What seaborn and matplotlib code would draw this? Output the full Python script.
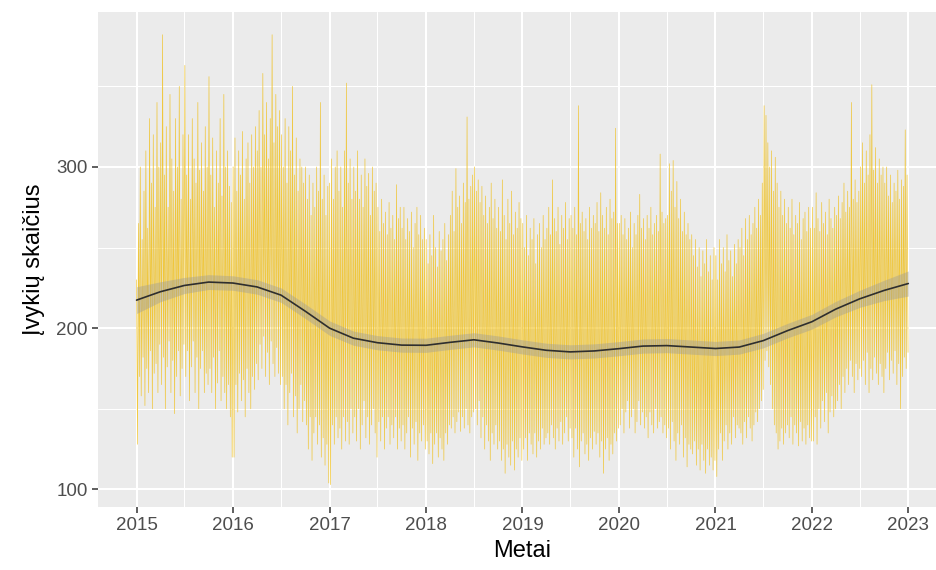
import numpy as np
import pandas as pd
import matplotlib
matplotlib.use("Agg")
import matplotlib.pyplot as plt
import matplotlib.dates as mdates
from matplotlib.ticker import MultipleLocator
import seaborn as sns

# ---- weekly upper / lower readings (events per day) ----
hi_2015 = [230, 265, 300, 255, 285, 310, 262, 330, 290, 320, 275, 340, 300,
           315, 382, 295, 325, 275, 345, 305, 285, 330, 300, 350, 280, 320,
           363, 295, 320, 280, 330, 305, 290, 340, 298, 315, 285, 325, 300,
           356, 295, 318, 275, 310, 290, 330, 282, 345, 300, 310, 288, 278]
lo_2015 = [128, 170, 158, 182, 152, 175, 160, 186, 150, 172, 178, 160, 190,
           165, 182, 150, 176, 192, 160, 180, 147, 170, 186, 158, 175, 190,
           170, 186, 155, 176, 192, 160, 182, 150, 175, 186, 160, 172, 165,
           175, 160, 182, 150, 166, 186, 155, 170, 160, 150, 165, 145, 120]
hi_2016 = [300, 318, 285, 310, 295, 322, 280, 305, 315, 290, 320, 300, 325,
           310, 335, 300, 358, 320, 340, 305, 330, 382, 315, 345, 325, 335,
           320, 300, 330, 290, 325, 310, 350, 295, 318, 285, 305, 300, 290,
           300, 280, 295, 270, 290, 275, 300, 285, 340, 280, 295, 270, 288]
lo_2016 = [120, 165, 148, 172, 155, 168, 145, 175, 160, 150, 170, 162, 178,
           168, 190, 175, 195, 170, 185, 165, 192, 178, 170, 188, 172, 165,
           170, 150, 165, 140, 160, 172, 145, 158, 135, 150, 165, 142, 155,
           140, 125, 145, 118, 135, 145, 128, 140, 120, 132, 115, 128, 104]
hi_2017 = [290, 305, 280, 300, 310, 285, 300, 275, 310, 352, 290, 305, 280,
           300, 285, 310, 280, 295, 275, 305, 288, 296, 270, 300, 285, 290,
           275, 260, 280, 265, 272, 258, 278, 262, 270, 255, 289, 268, 275,
           262, 275, 255, 268, 260, 272, 250, 265, 275, 258, 270, 255, 262]
lo_2017 = [103, 140, 128, 145, 132, 138, 125, 145, 130, 142, 128, 150, 135,
           145, 130, 150, 125, 140, 155, 132, 145, 128, 140, 150, 135, 120,
           142, 130, 145, 125, 138, 145, 128, 140, 132, 145, 125, 138, 130,
           140, 125, 135, 145, 120, 138, 128, 142, 118, 135, 130, 140, 125]
hi_2018 = [255, 240, 258, 245, 270, 250, 238, 260, 248, 255, 265, 242, 258,
           270, 285, 260, 299, 275, 282, 265, 290, 278, 331, 280, 288, 295,
           300, 285, 292, 278, 288, 270, 282, 265, 275, 290, 268, 280, 262,
           275, 260, 292, 270, 255, 280, 265, 285, 258, 272, 262, 278, 268]
lo_2018 = [130, 122, 135, 116, 128, 135, 120, 132, 125, 118, 135, 128, 140,
           138, 145, 135, 142, 148, 136, 145, 138, 150, 140, 135, 145, 148,
           150, 140, 155, 132, 145, 125, 140, 130, 118, 135, 128, 140, 125,
           130, 118, 125, 110, 128, 120, 115, 130, 112, 125, 120, 132, 118]
hi_2019 = [265, 250, 270, 245, 262, 255, 268, 240, 258, 265, 250, 270, 255,
           262, 275, 258, 292, 268, 260, 275, 252, 270, 262, 278, 255, 268,
           270, 262, 275, 258, 338, 265, 272, 260, 268, 255, 275, 262, 270,
           265, 278, 260, 284, 270, 262, 275, 258, 280, 268, 272, 324, 265]
lo_2019 = [125, 132, 118, 135, 128, 122, 135, 120, 130, 125, 138, 128, 132,
           135, 128, 140, 132, 125, 138, 130, 142, 128, 135, 145, 130, 138,
           132, 120, 138, 125, 114, 130, 135, 122, 128, 118, 132, 125, 136,
           128, 135, 120, 130, 110, 125, 132, 118, 128, 122, 135, 130, 138]
hi_2020 = [265, 270, 258, 268, 255, 262, 272, 250, 265, 258, 270, 283, 262,
           268, 255, 270, 262, 275, 258, 265, 270, 260, 308, 272, 265, 268,
           270, 302, 285, 304, 275, 291, 268, 280, 260, 272, 258, 265, 255,
           258, 245, 255, 238, 250, 232, 248, 240, 255, 235, 245, 230, 250]
lo_2020 = [140, 150, 135, 148, 155, 138, 145, 150, 135, 142, 155, 140, 148,
           138, 145, 132, 148, 140, 135, 150, 138, 142, 145, 135, 140, 132,
           138, 125, 142, 130, 118, 135, 128, 140, 120, 132, 114, 128, 125,
           122, 130, 115, 125, 112, 128, 118, 110, 125, 115, 120, 112, 118]
hi_2021 = [245, 230, 255, 240, 250, 235, 258, 242, 248, 232, 252, 240, 255,
           250, 262, 245, 268, 255, 270, 258, 265, 275, 262, 280, 270, 290,
           338, 332, 315, 300, 310, 285, 306, 290, 275, 285, 270, 280, 265,
           275, 262, 280, 258, 270, 265, 278, 255, 268, 272, 260, 275, 262]
lo_2021 = [108, 125, 135, 118, 130, 140, 125, 135, 128, 145, 132, 140, 138,
           135, 128, 142, 132, 145, 138, 130, 140, 148, 142, 150, 155, 162,
           180, 186, 176, 165, 150, 140, 135, 125, 130, 138, 128, 135, 140,
           132, 145, 128, 140, 135, 127, 142, 130, 138, 128, 140, 132, 130]
hi_2022 = [275, 262, 284, 268, 260, 278, 265, 272, 258, 280, 268, 262, 275,
           270, 282, 268, 278, 290, 272, 285, 275, 340, 280, 292, 278, 285,
           300, 315, 290, 310, 295, 320, 351, 298, 312, 290, 305, 295, 300,
           290, 300, 282, 295, 278, 290, 285, 298, 280, 292, 288, 323, 295]
lo_2022 = [130, 145, 128, 150, 138, 155, 142, 160, 135, 148, 158, 145, 150,
           155, 165, 150, 170, 160, 175, 165, 180, 170, 160, 178, 168, 175,
           170, 180, 165, 185, 160, 175, 168, 182, 172, 165, 178, 170, 160,
           175, 185, 168, 180, 172, 186, 165, 178, 150, 170, 182, 175, 185]

# ---- smooth trend (GAM) and its confidence half-width, quarterly readings ----
smooth_mid = [217.4, 222.6, 226.5, 228.6, 228.0, 225.6, 220.5, 210.5, 200.0,
              193.8, 191.0, 189.5, 189.4, 191.2, 192.8, 190.8, 188.4, 186.3,
              185.3, 185.9, 187.3, 188.9, 189.2, 188.3, 187.4, 188.3, 192.3,
              198.5, 204.0, 211.8, 218.2, 223.4, 227.7]
smooth_hw = [8.3, 6.2, 5.0, 4.6, 4.5, 4.5, 4.5, 4.5, 4.5, 4.4, 4.4, 4.4, 4.4,
             4.4, 4.4, 4.4, 4.4, 4.4, 4.4, 4.4, 4.4, 4.4, 4.4, 4.4, 4.4, 4.4,
             4.5, 4.5, 4.6, 4.8, 5.3, 6.3, 7.8]

x_label = "Metai"
y_label = "Įvykių skaičius"
y_ticks = [100, 200, 300]

# ---- assemble ----
hi_all = hi_2015 + hi_2016 + hi_2017 + hi_2018 + hi_2019 + hi_2020 + hi_2021 + hi_2022
lo_all = lo_2015 + lo_2016 + lo_2017 + lo_2018 + lo_2019 + lo_2020 + lo_2021 + lo_2022
vals = []
for h, l in zip(hi_all, lo_all):
    vals.extend([h, l])
start, end = pd.Timestamp("2015-01-01"), pd.Timestamp("2022-12-31")
dates = pd.date_range(start, end, periods=len(vals))
df = pd.DataFrame({"data": dates, "n": vals})

sm_dates = pd.date_range("2015-01-01", periods=len(smooth_mid), freq="QS")
sm = pd.DataFrame({"data": sm_dates, "fit": smooth_mid})
sm_lo = np.array(smooth_mid) - np.array(smooth_hw)
sm_hi = np.array(smooth_mid) + np.array(smooth_hw)

# ---- style (ggplot2 theme_gray look) ----
sns.set_theme(style="darkgrid")
plt.rcParams["font.family"] = ["Liberation Sans", "DejaVu Sans"]

fig = plt.figure(figsize=(9.36, 5.70), dpi=100)
ax = fig.add_axes([98 / 936, 63 / 570, 848.6 / 936, 495 / 570])
ax.set_facecolor("#EBEBEB")

sns.lineplot(data=df, x="data", y="n", ax=ax, color="#F0C01C", lw=0.5,
             alpha=0.85, errorbar=None, zorder=2)
ax.fill_between(sm["data"], sm_lo, sm_hi, color="#999999", alpha=0.4,
                lw=0, zorder=3)
sns.lineplot(data=sm, x="data", y="fit", ax=ax, color="#2E2E2E", lw=1.2,
             errorbar=None, zorder=4)

span = end - start
pad = span * 0.05
ax.set_xlim(start - pad, end + pad)
ax.set_ylim(89.1, 396.1)

ax.xaxis.set_major_locator(mdates.YearLocator())
ax.xaxis.set_major_formatter(mdates.DateFormatter("%Y"))
ax.xaxis.set_minor_locator(mdates.MonthLocator(bymonth=7))
ax.set_yticks(y_ticks)
ax.yaxis.set_minor_locator(MultipleLocator(50))

ax.grid(which="major", color="white", lw=1.5)
ax.grid(which="minor", color="white", lw=0.75)
ax.set_axisbelow(True)
for s in ax.spines.values():
    s.set_visible(False)

ax.tick_params(which="major", length=4.5, width=1.1, color="#333333",
               labelsize=13.5, labelcolor="#4D4D4D", pad=3, bottom=True, left=True)
ax.tick_params(which="minor", length=0)

ax.set_xlabel(x_label, fontsize=17, color="black", labelpad=4)
ax.set_ylabel(y_label, fontsize=17, color="black", labelpad=8)

fig.savefig("out.png", dpi=100)
